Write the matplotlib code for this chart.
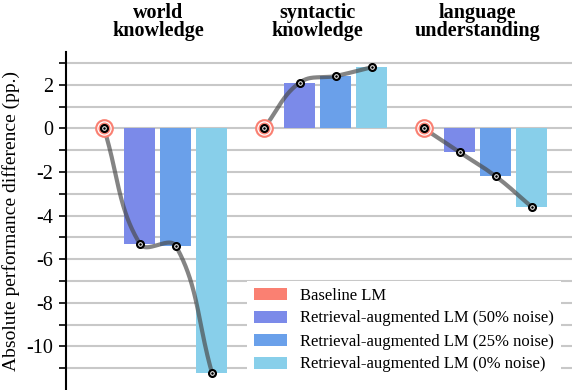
import numpy as np
import matplotlib
matplotlib.use('Agg')
import matplotlib.pyplot as plt
import matplotlib.transforms as mtransforms
from matplotlib.patches import Patch

# ---------------- data ----------------
categories = ['world\nknowledge', 'syntactic\nknowledge', 'language\nunderstanding']
series_names = ['Baseline LM',
                'Retrieval-augmented LM (50% noise)',
                'Retrieval-augmented LM (25% noise)',
                'Retrieval-augmented LM (0% noise)']
baseline = [0.0, 0.0, 0.0]
noise50 = [-5.3, 2.1, -1.1]
noise25 = [-5.4, 2.4, -2.2]
noise0 = [-11.2, 2.8, -3.6]
ytick_values = [2, 0, -2, -4, -6, -8, -10]
ytick_labels = ['2', '0', '-2', '-4', '-6', '-8', '-10']
ylabel_text = 'Absolute performance difference (pp.)'

colors = ['#fa8072', '#7b8ae9', '#6aa0ea', '#88cfea']

plt.rcParams['font.family'] = ['Liberation Serif', 'DejaVu Serif']

W, H = 572, 390
fig = plt.figure(figsize=(W / 100, H / 100), dpi=100)
ax = fig.add_axes([66 / W, 0, (W - 66) / W, 1 - 52 / H])
ax.set_xlim(-0.575, 2.59)
ax.set_ylim(-12, 3.5)

step = 0.225
bw = 0.194
series = [baseline, noise50, noise25, noise0]
ngr = len(categories)
for k, vals in enumerate(series):
    xs = [g + (k - 1.5) * step for g in range(ngr)]
    if k > 0:
        ax.bar(xs, vals, width=bw, color=colors[k], zorder=2, linewidth=0)

# grid and ticks
ax.set_yticks(ytick_values)
ax.set_yticklabels(ytick_labels, fontsize=14.5)
ax.set_yticks([3, 1, -1, -3, -5, -7, -9, -11], minor=True)
ax.grid(True, which='both', axis='y', color='#c8c8c8', linewidth=1.5, zorder=0)
ax.set_axisbelow(True)
ax.tick_params(axis='y', which='both', direction='out', length=5, width=1.2, pad=4.5, colors='black')
ax.set_xticks([])
for s in ['top', 'right', 'bottom']:
    ax.spines[s].set_visible(False)
ax.spines['left'].set_linewidth(1.5)
ax.set_ylabel(ylabel_text, fontsize=14, labelpad=4)

# smooth connecting lines (bezier with tension 0.4, computed in display space)
def bezier_line(points_data):
    P = ax.transData.transform(np.array(points_data))
    n = len(P)
    prevs, nexts = [], []
    t = 0.4
    for i in range(n):
        pr = P[i - 1] if i > 0 else P[i]
        cu = P[i]
        nx = P[i + 1] if i < n - 1 else P[i]
        d01 = np.hypot(*(cu - pr))
        d12 = np.hypot(*(nx - cu))
        tot = d01 + d12
        s01 = d01 / tot if tot else 0
        s12 = d12 / tot if tot else 0
        prevs.append(cu - t * s01 * (nx - pr))
        nexts.append(cu + t * s12 * (nx - pr))
    out = []
    tt = np.linspace(0, 1, 60)[:, None]
    for i in range(n - 1):
        p0, c1, c2, p3 = P[i], nexts[i], prevs[i + 1], P[i + 1]
        seg = ((1 - tt) ** 3) * p0 + 3 * ((1 - tt) ** 2) * tt * c1 + 3 * (1 - tt) * tt ** 2 * c2 + tt ** 3 * p3
        out.append(seg)
    out = np.vstack(out)
    return ax.transData.inverted().transform(out)

for g in range(ngr):
    pts = [(g + (k - 1.5) * step, series[k][g]) for k in range(4)]
    curve = bezier_line(pts)
    ax.plot(curve[:, 0], curve[:, 1], color='#4a4a4a', alpha=0.68, lw=3.0,
            solid_capstyle='round', zorder=3)
    px = [p[0] for p in pts]
    py = [p[1] for p in pts]
    # baseline highlight marker
    ax.plot(px[0], py[0], 'o', ms=13.5, color=colors[0], mec='none', zorder=4)
    ax.plot(px[0], py[0], 'o', ms=9.5, mfc='none', mec='white', mew=0.9, zorder=4)
    ax.plot(px, py, 'o', ms=5.5, color='black', mec='black', zorder=5)
    ax.plot(px, py, 'o', ms=2.6, mfc='none', mec='white', mew=0.7, zorder=6)

# category titles
trans = mtransforms.blended_transform_factory(ax.transData, fig.transFigure)
for g, cat in enumerate(categories):
    ax.text(g, 1 - 22 / H, cat, transform=trans, ha='center', va='center',
            fontsize=14.5, fontweight='bold', linespacing=0.9)

# legend
handles = [Patch(facecolor=c, edgecolor='none') for c in colors]
leg = fig.legend(handles, series_names, loc='center',
                 bbox_to_anchor=(404 / W, 1 - 330 / H), frameon=True,
                 fontsize=12, handlelength=2.0, handleheight=0.7,
                 handletextpad=0.75, labelspacing=0.42, borderpad=0.4)
leg.get_frame().set_facecolor('white')
leg.get_frame().set_edgecolor('none')
leg.get_frame().set_alpha(1)
leg.get_frame().set_boxstyle('square', pad=0)

fig.savefig('out.png', dpi=100)
